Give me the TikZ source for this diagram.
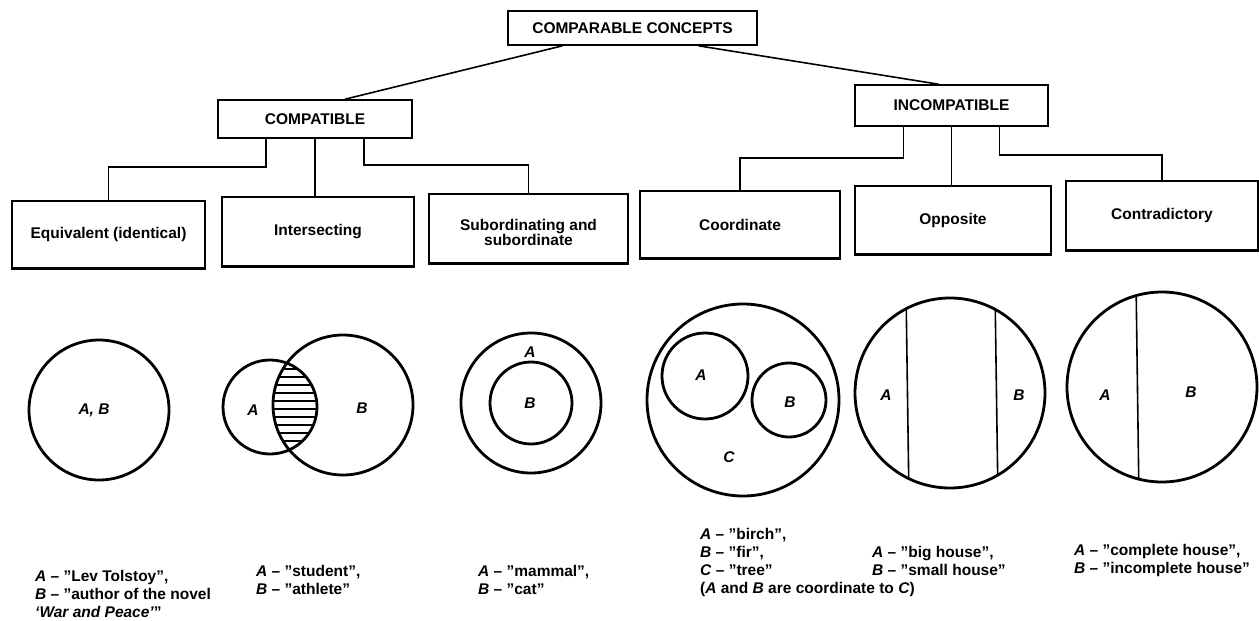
\documentclass[tikz,border=0pt]{standalone}
\usepackage{fontspec}
\setmainfont{Liberation Sans}
\begin{document}
\begin{tikzpicture}[x=1pt,y=-1pt,
  every node/.style={font=\fontsize{15.5}{18}\selectfont\bfseries},
  box/.style={draw,line width=1.6pt,inner sep=0pt,align=center},
  conn/.style={line width=1.6pt},
  ring/.style={line width=2.8pt},
  lab/.style={font=\fontsize{15.5}{18}\selectfont\bfseries\itshape,inner sep=0pt},
  note/.style={anchor=north west,align=left,inner sep=0pt}]
\useasboundingbox (0,0) rectangle (1259,621);
\fill[white] (0,0) rectangle (1259,621);

% boxes
\node[box,minimum width=249pt,minimum height=34pt] (top) at (632.5,28) {COMPARABLE CONCEPTS};
\node[box,minimum width=194pt,minimum height=38pt] (compat) at (315,119) {COMPATIBLE};
\node[box,minimum width=193pt,minimum height=41pt] (incompat) at (951.5,105.5) {INCOMPATIBLE};

\node[box,minimum width=193pt,minimum height=67pt] (equiv) at (108.5,234.5) {Equivalent (identical)};
\node[box,minimum width=192pt,minimum height=69pt] (inter) at (318,231.5) {Intersecting};
\node[box,minimum width=199pt,minimum height=69pt,font=\fontsize{15.5}{14}\selectfont\bfseries] (subord) at (528.5,228.5) {\rule{0pt}{19pt}Subordinating and\\subordinate};
\node[box,minimum width=200pt,minimum height=67pt] (coord) at (740,224.5) {Coordinate};
\node[box,minimum width=196pt,minimum height=68pt] (oppos) at (953,220) {Opposite};
\node[box,minimum width=192pt,minimum height=69pt] (contra) at (1162,215.5) {Contradictory};
\foreach \n in {equiv,inter,subord,coord,oppos,contra}
  \draw[line width=3pt] (\n.south west) -- (\n.south east);

% connectors
\draw[conn] ([xshift=-70pt]top.south) -- ([xshift=30pt]compat.north);
\draw[conn] ([xshift=66pt]top.south) -- ([xshift=-13pt]incompat.north);
\draw[conn] ([xshift=-49pt]compat.south) -- ++(0,28) -| (equiv.north);
\draw[conn] (compat.south) -- (compat.south |- inter.north);
\draw[conn] ([xshift=49pt]compat.south) -- ++(0,26) -| (subord.north);
\draw[conn] ([xshift=-48pt]incompat.south) -- ++(0,31) -| (coord.north);
\draw[conn] (incompat.south) -- (incompat.south |- oppos.north);
\draw[conn] ([xshift=48pt]incompat.south) -- ++(0,28) -| (contra.north);

% 1 equivalent
\draw[ring] (99,410) circle[radius=70];
\node[lab] (l1) at (94,410) {A, B};

% 2 intersecting
\begin{scope}
  \clip (270,407) circle[radius=47];
  \clip (343,405) circle[radius=70];
  \foreach \y in {361,369,...,457} \draw[line width=1.2pt] (260,\y) -- (330,\y);
\end{scope}
\draw[ring] (270,407) circle[radius=47];
\draw[ring] (343,405) circle[radius=70];
\node[lab] (l2a) at (253,410) {A};
\node[lab] (l2b) at (362,408) {B};

% 3 subordinating
\draw[ring] (531,403) circle[radius=70];
\draw[ring] (531,403) circle[radius=41];
\node[lab] (l3a) at (530,352) {A};
\node[lab] (l3b) at (530,403) {B};

% 4 coordinate
\draw[ring] (743,400) circle[radius=96];
\draw[ring] (705,376) circle[radius=43];
\draw[ring] (789,400) circle[radius=37];
\node[lab] (l4a) at (701,375) {A};
\node[lab] (l4b) at (790,402) {B};
\node[lab] (l4c) at (729,457) {C};

% 5 opposite
\begin{scope}
  \clip (950,393) circle[radius=95];
  \draw[conn] (906,290) -- (909,500);
  \draw[conn] (995,290) -- (998,500);
\end{scope}
\draw[ring] (950,393) circle[radius=95];
\node[lab] (l5a) at (886,395) {A};
\node[lab] (l5b) at (1019,395) {B};

% 6 contradictory
\begin{scope}
  \clip (1162,387) circle[radius=95];
  \draw[conn] (1136,280) -- (1139,500);
\end{scope}
\draw[ring] (1162,387) circle[radius=95];
\node[lab] (l6a) at (1105,395) {A};
\node[lab] (l6b) at (1191,392) {B};

% notes
\node[note] (n1) at (35,570) {\textit{A} – ”Lev Tolstoy”,\\\textit{B} – ”author of the novel\\\textit{‘War and Peace’}”};
\node[note] (n2) at (256,565) {\textit{A} – ”student”,\\\textit{B} – ”athlete”};
\node[note] (n3) at (478,565) {\textit{A} – ”mammal”,\\\textit{B} – ”cat”};
\node[note] (n4) at (700,528) {\textit{A} – ”birch”,\\\textit{B} – ”fir”,\\\textit{C} – ”tree”\\(\textit{A} and \textit{B} are coordinate to \textit{C})};
\node[note] (n5) at (872,546) {\textit{A} – ”big house”,\\\textit{B} – ”small house”};
\node[note] (n6) at (1074,544) {\textit{A} – ”complete house”,\\\textit{B} – ”incomplete house”};
\end{tikzpicture}
\end{document}
